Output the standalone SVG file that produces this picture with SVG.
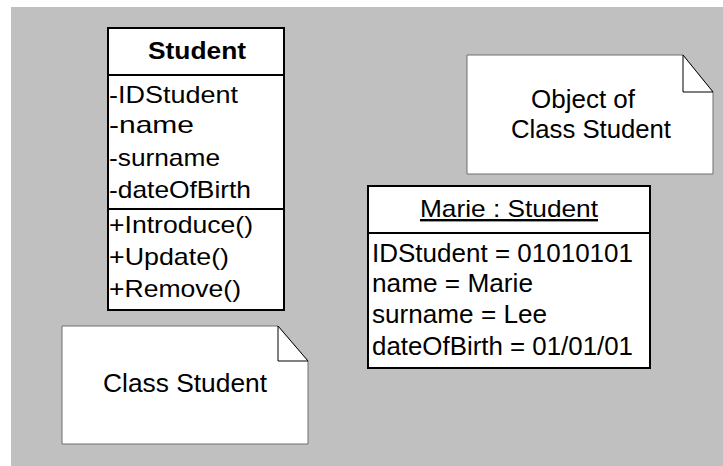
<svg xmlns="http://www.w3.org/2000/svg" width="723" height="466" viewBox="0 0 723 466">
  <style>
    .box { fill: #ffffff; stroke: #000000; stroke-width: 2; }
    .div { stroke: #000000; stroke-width: 2; }
    .note { fill: #ffffff; stroke: #6e6e6e; stroke-width: 1; }
    .fold { fill: #ffffff; stroke: #000000; stroke-width: 1; }
    text { font-family: "Liberation Sans", Arial, sans-serif; fill: #000000; }
    .t { font-size: 24px; }
    .big { font-size: 25px; }
    .nt { font-size: 25px; }
    .bold { font-weight: bold; }
  </style>

  <!-- canvas -->
  <rect x="11" y="7" width="712" height="459" fill="#c0c0c0"/>

  <!-- class Student -->
  <g id="class-student">
    <rect class="box" x="108" y="28" width="176" height="282"/>
    <line class="div" x1="108" y1="75" x2="284" y2="75"/>
    <line class="div" x1="108" y1="209" x2="284" y2="209"/>
    <text class="t bold" x="148" y="59" textLength="98" lengthAdjust="spacingAndGlyphs">Student</text>
    <text class="t" x="109" y="103" textLength="129" lengthAdjust="spacingAndGlyphs">-IDStudent</text>
    <text class="t" x="109" y="133" textLength="85" lengthAdjust="spacingAndGlyphs">-name</text>
    <text class="t" x="109" y="166" textLength="111" lengthAdjust="spacingAndGlyphs">-surname</text>
    <text class="t" x="109" y="198" textLength="142" lengthAdjust="spacingAndGlyphs">-dateOfBirth</text>
    <text class="t" x="109" y="233" textLength="144" lengthAdjust="spacingAndGlyphs">+Introduce()</text>
    <text class="t" x="109" y="265" textLength="120" lengthAdjust="spacingAndGlyphs">+Update()</text>
    <text class="t" x="109" y="297" textLength="132" lengthAdjust="spacingAndGlyphs">+Remove()</text>
  </g>

  <!-- object Marie -->
  <g id="object-marie">
    <rect class="box" x="368" y="186" width="282" height="182"/>
    <line class="div" x1="368" y1="233" x2="650" y2="233"/>
    <text class="t" x="420" y="217" textLength="178" lengthAdjust="spacingAndGlyphs" text-decoration="underline">Marie : Student</text>
    <text class="big" x="372" y="262" textLength="261" lengthAdjust="spacingAndGlyphs">IDStudent = 01010101</text>
    <text class="big" x="372" y="292" textLength="161" lengthAdjust="spacingAndGlyphs">name = Marie</text>
    <text class="big" x="372" y="323" textLength="175" lengthAdjust="spacingAndGlyphs">surname = Lee</text>
    <text class="big" x="372" y="355" textLength="261" lengthAdjust="spacingAndGlyphs">dateOfBirth = 01/01/01</text>
  </g>

  <!-- note: Object of Class Student -->
  <g id="note-object">
    <path class="note" d="M467,55 H683 L713,92 V174 H467 Z"/>
    <path class="fold" d="M683,55 V92 H713 Z"/>
    <text class="nt" x="531" y="108" textLength="104" lengthAdjust="spacingAndGlyphs">Object of</text>
    <text class="nt" x="511" y="138" textLength="160" lengthAdjust="spacingAndGlyphs">Class Student</text>
  </g>

  <!-- note: Class Student -->
  <g id="note-class">
    <path class="note" d="M62,326 H278 L308,361 V444 H62 Z"/>
    <path class="fold" d="M278,326 V361 H308 Z"/>
    <text class="nt" x="103" y="392" textLength="164" lengthAdjust="spacingAndGlyphs">Class Student</text>
  </g>

  <!-- no connectors in this diagram -->
  <g id="connectors"/>
</svg>
